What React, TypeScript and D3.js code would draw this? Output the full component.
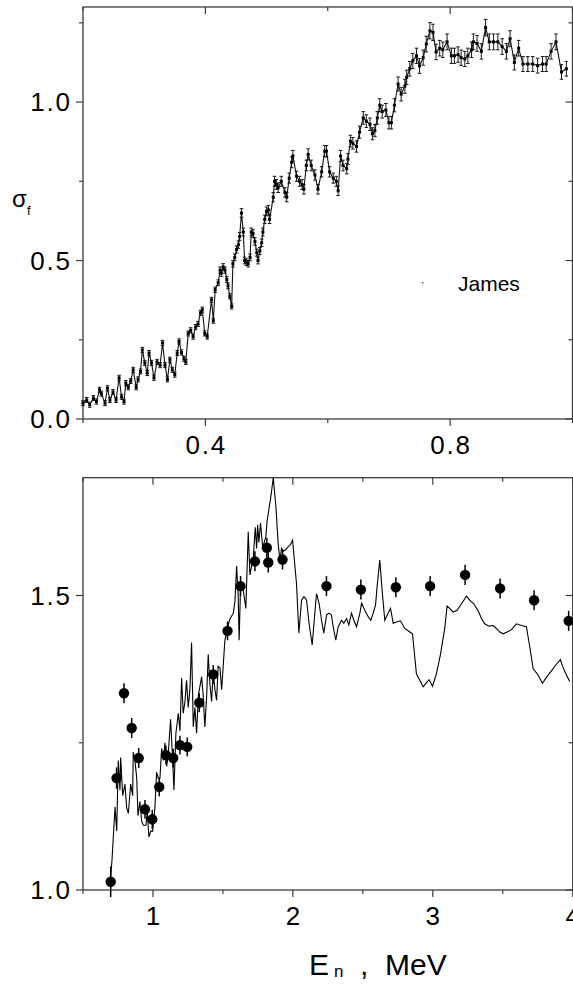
import React from "react";
import * as d3 from "d3";

const W = 573;
const H = 984;
const FONT = "'Liberation Sans', Arial, Helvetica, sans-serif";
const AXIS_COLOR = "#3c3c3c";
const TICK_FONT = 26;
const TICK_SPACING = 1.8;

// ---------- upper panel: James, σf vs En (MeV) ----------
const jamesLow: [number, number][] = [
  [0.200, 0.050], [0.206, 0.060], [0.211, 0.045], [0.217, 0.066], [0.222, 0.055],
  [0.227, 0.092], [0.230, 0.080], [0.236, 0.050], [0.240, 0.097], [0.244, 0.060],
  [0.249, 0.085], [0.254, 0.060], [0.259, 0.130], [0.263, 0.070], [0.267, 0.055],
  [0.270, 0.113], [0.274, 0.100], [0.278, 0.120], [0.282, 0.155], [0.287, 0.100],
  [0.290, 0.125], [0.294, 0.150], [0.297, 0.218], [0.301, 0.177], [0.305, 0.145],
  [0.308, 0.208], [0.312, 0.177], [0.316, 0.130], [0.321, 0.180], [0.326, 0.170],
  [0.330, 0.240], [0.334, 0.170], [0.338, 0.125], [0.342, 0.187], [0.346, 0.155],
  [0.350, 0.140], [0.354, 0.208], [0.357, 0.245], [0.361, 0.210], [0.365, 0.190],
  [0.368, 0.180], [0.372, 0.270], [0.376, 0.280], [0.380, 0.260], [0.384, 0.290],
  [0.388, 0.300], [0.392, 0.335], [0.395, 0.345], [0.399, 0.270], [0.403, 0.260],
];
const jamesRise: [number, number][] = [
  [0.410, 0.376], [0.413, 0.310], [0.416, 0.408], [0.421, 0.430], [0.424, 0.470],
  [0.426, 0.460], [0.429, 0.480], [0.432, 0.470], [0.435, 0.440], [0.437, 0.420],
  [0.440, 0.387], [0.443, 0.355], [0.445, 0.490], [0.448, 0.510], [0.451, 0.535],
  [0.454, 0.550], [0.456, 0.576], [0.459, 0.650], [0.462, 0.590], [0.464, 0.500],
  [0.467, 0.495], [0.470, 0.490], [0.473, 0.510], [0.475, 0.590], [0.478, 0.585],
  [0.481, 0.560], [0.484, 0.525], [0.486, 0.500], [0.489, 0.530], [0.492, 0.556],
  [0.494, 0.590], [0.497, 0.630], [0.500, 0.655], [0.503, 0.660], [0.505, 0.630],
  [0.511, 0.700],
];
const jamesMid: [number, number][] = [
  [0.513, 0.750], [0.516, 0.740], [0.519, 0.730], [0.524, 0.750], [0.530, 0.715],
  [0.533, 0.700], [0.537, 0.760], [0.541, 0.810], [0.543, 0.830], [0.549, 0.766],
  [0.554, 0.750], [0.558, 0.740], [0.561, 0.725], [0.565, 0.800], [0.568, 0.835],
  [0.573, 0.800], [0.579, 0.770], [0.584, 0.725], [0.590, 0.780], [0.595, 0.845],
  [0.598, 0.845], [0.603, 0.780], [0.609, 0.760], [0.614, 0.750], [0.617, 0.720],
  [0.621, 0.830], [0.625, 0.800], [0.631, 0.790], [0.633, 0.820], [0.637, 0.877],
  [0.641, 0.870], [0.647, 0.860], [0.652, 0.905], [0.658, 0.950], [0.663, 0.940],
  [0.669, 0.930],
];
const jamesHigh: [number, number][] = [
  [0.673, 0.900], [0.677, 0.910], [0.681, 0.950], [0.685, 0.990], [0.689, 0.970],
  [0.695, 0.975], [0.700, 0.935], [0.704, 0.935], [0.709, 0.990], [0.715, 1.057],
  [0.720, 1.025], [0.726, 1.050], [0.729, 1.078], [0.734, 1.105], [0.739, 1.130],
  [0.745, 1.146], [0.750, 1.114], [0.756, 1.140], [0.761, 1.183], [0.767, 1.225],
  [0.772, 1.220], [0.777, 1.158], [0.783, 1.170], [0.788, 1.165], [0.795, 1.190],
  [0.802, 1.146], [0.807, 1.146], [0.813, 1.150], [0.818, 1.140], [0.824, 1.136],
  [0.829, 1.146], [0.835, 1.165], [0.838, 1.190], [0.844, 1.185], [0.851, 1.160],
  [0.858, 1.235], [0.864, 1.190], [0.871, 1.190], [0.878, 1.190], [0.885, 1.175],
  [0.892, 1.160], [0.898, 1.200], [0.905, 1.125], [0.912, 1.170], [0.919, 1.120],
  [0.927, 1.120], [0.935, 1.120], [0.943, 1.115], [0.951, 1.120], [0.957, 1.120],
  [0.965, 1.160], [0.973, 1.190], [0.982, 1.095], [0.990, 1.105],
];
const jamesData = [...jamesLow, ...jamesRise, ...jamesMid, ...jamesHigh];
// quoted uncertainty of the measurement: 2 % relative, with a floor
const RELATIVE_ERROR = 0.021;
const MIN_ERROR = 0.008;

const topXTicks = [0.2, 0.4, 0.6, 0.8, 1.0];
const topXLabels = [0.4, 0.8];
const topYTicks = [0, 0.25, 0.5, 0.75, 1.0, 1.25];
const topYLabels = [0, 0.5, 1.0];

// ---------- lower panel: evaluation curve and measured points ----------
const curveLow: [number, number][] = [
  [0.698, 1.023], [0.707, 1.050], [0.729, 1.141], [0.741, 1.100], [0.752, 1.220],
  [0.764, 1.170], [0.769, 1.225], [0.784, 1.160], [0.800, 1.180], [0.812, 1.140],
  [0.824, 1.130], [0.841, 1.180], [0.855, 1.160], [0.859, 1.234], [0.871, 1.220],
  [0.884, 1.190], [0.893, 1.126], [0.907, 1.150], [0.919, 1.117], [0.931, 1.110],
  [0.950, 1.110], [0.959, 1.135], [0.971, 1.090], [0.984, 1.100], [0.998, 1.100],
  [1.014, 1.140], [1.026, 1.200], [1.038, 1.190], [1.050, 1.190], [1.062, 1.240],
  [1.074, 1.220], [1.086, 1.250], [1.098, 1.210], [1.109, 1.230], [1.126, 1.290],
  [1.141, 1.220], [1.150, 1.170], [1.164, 1.266], [1.181, 1.300], [1.193, 1.270],
  [1.205, 1.360], [1.216, 1.300], [1.229, 1.320], [1.240, 1.356], [1.252, 1.310],
  [1.264, 1.340], [1.276, 1.420], [1.288, 1.277], [1.300, 1.310], [1.312, 1.266],
  [1.324, 1.330], [1.348, 1.362], [1.359, 1.330], [1.371, 1.277], [1.384, 1.330],
  [1.395, 1.400], [1.407, 1.350], [1.419, 1.320], [1.431, 1.370], [1.443, 1.340],
  [1.455, 1.322], [1.466, 1.380], [1.479, 1.377], [1.491, 1.340], [1.502, 1.380],
  [1.514, 1.424], [1.538, 1.450], [1.550, 1.460], [1.574, 1.470], [1.586, 1.490],
  [1.598, 1.550], [1.609, 1.500], [1.616, 1.424], [1.626, 1.515], [1.634, 1.520],
  [1.645, 1.510], [1.664, 1.478], [1.681, 1.608], [1.693, 1.535], [1.705, 1.550],
  [1.716, 1.560], [1.731, 1.616], [1.741, 1.580], [1.748, 1.620], [1.757, 1.590],
  [1.769, 1.623], [1.784, 1.582], [1.795, 1.590], [1.807, 1.600], [1.816, 1.627],
  [1.831, 1.650], [1.841, 1.665], [1.860, 1.700], [1.879, 1.650], [1.895, 1.588],
  [1.907, 1.560], [1.919, 1.580], [1.931, 1.575], [1.950, 1.578], [1.967, 1.583],
  [1.979, 1.585], [1.998, 1.594],
];
const curveHigh: [number, number][] = [
  [2.009, 1.565], [2.026, 1.520], [2.043, 1.436], [2.062, 1.492], [2.079, 1.498],
  [2.098, 1.492], [2.116, 1.452], [2.138, 1.416], [2.157, 1.470], [2.169, 1.503],
  [2.188, 1.486], [2.205, 1.458], [2.221, 1.436], [2.241, 1.467], [2.259, 1.470],
  [2.276, 1.467], [2.288, 1.447], [2.307, 1.424], [2.324, 1.447], [2.348, 1.458],
  [2.364, 1.453], [2.384, 1.461], [2.400, 1.450], [2.419, 1.470], [2.436, 1.458],
  [2.455, 1.447], [2.479, 1.470], [2.491, 1.487], [2.514, 1.475], [2.538, 1.464],
  [2.557, 1.458], [2.574, 1.470], [2.591, 1.484], [2.602, 1.515], [2.621, 1.560],
  [2.641, 1.500], [2.657, 1.458], [2.674, 1.467], [2.698, 1.478], [2.717, 1.453],
  [2.741, 1.455], [2.769, 1.457], [2.800, 1.444], [2.836, 1.438], [2.855, 1.435],
  [2.883, 1.367], [2.907, 1.356], [2.931, 1.345], [2.955, 1.352], [2.974, 1.357],
  [2.998, 1.346], [3.026, 1.367], [3.055, 1.400], [3.086, 1.445], [3.102, 1.482],
  [3.121, 1.478], [3.145, 1.472], [3.174, 1.475], [3.205, 1.486], [3.241, 1.499],
  [3.264, 1.492], [3.293, 1.486], [3.324, 1.474], [3.348, 1.461], [3.371, 1.452],
  [3.400, 1.448], [3.431, 1.449], [3.455, 1.444], [3.479, 1.438], [3.502, 1.435],
  [3.531, 1.438], [3.562, 1.442], [3.598, 1.452], [3.633, 1.449], [3.669, 1.447],
  [3.693, 1.413], [3.717, 1.376], [3.752, 1.365], [3.784, 1.351], [3.812, 1.361],
  [3.848, 1.372], [3.879, 1.382], [3.912, 1.391], [3.931, 1.378], [3.955, 1.365],
  [3.979, 1.354],
];
const curveData = [...curveLow, ...curveHigh];

// measured points: [En, σf, uncertainty]
const measured: [number, number, number][] = [
  [0.698, 1.014, 0.026], [0.740, 1.190, 0.018], [0.793, 1.334, 0.017],
  [0.848, 1.275, 0.017], [0.898, 1.224, 0.017], [0.943, 1.137, 0.016],
  [0.995, 1.120, 0.016], [1.045, 1.175, 0.016], [1.093, 1.229, 0.016],
  [1.145, 1.224, 0.016], [1.193, 1.246, 0.016], [1.245, 1.243, 0.016],
  [1.331, 1.318, 0.016], [1.431, 1.366, 0.016], [1.533, 1.440, 0.016],
  [1.626, 1.516, 0.017], [1.729, 1.558, 0.017], [1.814, 1.581, 0.017],
  [1.824, 1.556, 0.017], [1.926, 1.561, 0.017], [2.240, 1.516, 0.017],
  [2.486, 1.510, 0.017], [2.736, 1.514, 0.017], [2.981, 1.516, 0.017],
  [3.231, 1.535, 0.017], [3.481, 1.512, 0.017], [3.724, 1.492, 0.017],
  [3.971, 1.457, 0.017],
];

const bottomXTicks = [0.5, 1, 1.5, 2, 2.5, 3, 3.5, 4];
const bottomXLabels = [1, 2, 3, 4];
const bottomYTicks = [1.0, 1.25, 1.5];
const bottomYLabels = [1.0, 1.5];

type Scale = d3.ScaleLinear<number, number>;

function Frame({
  x, y, xTicks, xLabels, yTicks, yLabels, xFmt, yFmt,
}: {
  x: Scale; y: Scale; xTicks: number[]; xLabels: number[]; yTicks: number[];
  yLabels: number[]; xFmt: (v: number) => string; yFmt: (v: number) => string;
}) {
  const [x0, x1] = x.range();
  const [y0, y1] = y.range(); // y0 bottom, y1 top
  const isMajorX = (v: number) => xLabels.some((l) => Math.abs(l - v) < 1e-9);
  const isMajorY = (v: number) => yLabels.some((l) => Math.abs(l - v) < 1e-9);
  return (
    <g>
      <rect x={x0} y={y1} width={x1 - x0} height={y0 - y1} fill="none"
        stroke={AXIS_COLOR} strokeWidth={1.3} />
      {xTicks.map((v) => {
        const px = x(v);
        const len = isMajorX(v) ? 7 : 4;
        return (
          <g key={"xt" + v} stroke={AXIS_COLOR} strokeWidth={1.2}>
            <line x1={px} x2={px} y1={y0} y2={y0 + len} />
            <line x1={px} x2={px} y1={y1} y2={y1 + len} />
          </g>
        );
      })}
      {yTicks.map((v) => {
        const py = y(v);
        const len = isMajorY(v) ? 7 : 4;
        return (
          <g key={"yt" + v} stroke={AXIS_COLOR} strokeWidth={1.2}>
            <line x1={x0} x2={x0 - len} y1={py} y2={py} />
            <line x1={x1} x2={x1 - len} y1={py} y2={py} />
          </g>
        );
      })}
      {xLabels.map((v) => (
        <text key={"xl" + v} x={x(v) + TICK_SPACING / 2} y={y0 + 35} textAnchor="middle"
          fontFamily={FONT} fontSize={TICK_FONT} letterSpacing={TICK_SPACING}
          fill="#000">{xFmt(v)}</text>
      ))}
      {yLabels.map((v) => (
        <text key={"yl" + v} x={70 + TICK_SPACING} y={y(v) + 9.3} textAnchor="end"
          fontFamily={FONT} fontSize={TICK_FONT} letterSpacing={TICK_SPACING}
          fill="#000">{yFmt(v)}</text>
      ))}
    </g>
  );
}

export default function App() {
  const fmt1 = d3.format(".1f");
  const fmt0 = d3.format("d");

  const xTop = d3.scaleLinear().domain([0.2, 1.0]).range([83, 572.5]);
  const yTop = d3.scaleLinear().domain([0, 1.3]).range([419, 7]);
  const xBot = d3.scaleLinear().domain([0.5, 4]).range([83, 572.7]);
  const yBot = d3.scaleLinear().domain([1.0, 1.7]).range([890, 477.7]);

  const topLine = d3.line<[number, number]>().x((d) => xTop(d[0])).y((d) => yTop(d[1]));
  const botLine = d3.line<[number, number]>().x((d) => xBot(d[0])).y((d) => yBot(d[1]));

  return (
    <svg width={W} height={H} viewBox={`0 0 ${W} ${H}`}
      style={{ position: "absolute", left: 0, top: 0, background: "#fff" }}>
      <rect width={W} height={H} fill="#fff" />

      {/* upper panel */}
      <Frame x={xTop} y={yTop} xTicks={topXTicks} xLabels={topXLabels}
        yTicks={topYTicks} yLabels={topYLabels} xFmt={fmt1} yFmt={fmt1} />
      <g>
        {jamesData.map(([e, s], i) => {
          const err = Math.max(MIN_ERROR, s * RELATIVE_ERROR);
          const px = xTop(e);
          const ya = yTop(s + err);
          const yb = yTop(s - err);
          return (
            <g key={"eb" + i} stroke="#1a1a1a" strokeWidth={1}>
              <line x1={px} x2={px} y1={ya} y2={yb} />
              <line x1={px - 1.8} x2={px + 1.8} y1={ya} y2={ya} />
              <line x1={px - 1.8} x2={px + 1.8} y1={yb} y2={yb} />
            </g>
          );
        })}
        <path d={topLine(jamesData) ?? ""} fill="none" stroke="#111" strokeWidth={1.1} />
        {jamesData.map(([e, s], i) => (
          <rect key={"pt" + i} x={xTop(e) - 1.5} y={yTop(s) - 1.5} width={3} height={3}
            fill="#000" />
        ))}
      </g>
      {/* legend */}
      <rect x={422} y={282} width={1.4} height={1.4} fill="#555" />
      <text x={458} y={291} fontFamily={FONT} fontSize={21} fill="#000">James</text>
      {/* y-axis title σf */}
      <text x={12} y={207} fontFamily={FONT} fontSize={24} fill="#000">σ</text>
      <text x={27} y={215} fontFamily={FONT} fontSize={13} fill="#000">f</text>

      {/* lower panel */}
      <Frame x={xBot} y={yBot} xTicks={bottomXTicks} xLabels={bottomXLabels}
        yTicks={bottomYTicks} yLabels={bottomYLabels} xFmt={fmt0} yFmt={fmt1} />
      <path d={botLine(curveData) ?? ""} fill="none" stroke="#000" strokeWidth={1.1}
        strokeLinejoin="miter" />
      {measured.map(([e, s, u], i) => (
        <g key={"m" + i}>
          <line x1={xBot(e)} x2={xBot(e)} y1={yBot(s + u)} y2={yBot(s - u)}
            stroke="#000" strokeWidth={1.5} />
          <circle cx={xBot(e)} cy={yBot(s)} r={5.2} fill="#000" />
        </g>
      ))}

      {/* x-axis title */}
      <text y={975} fontFamily={FONT} fill="#000">
        <tspan x={309} fontSize={30}>E</tspan>
        <tspan x={334} dy={2} fontSize={17}>n</tspan>
        <tspan x={360} dy={-2} fontSize={30}>,</tspan>
        <tspan x={385} fontSize={30}>MeV</tspan>
      </text>
    </svg>
  );
}
